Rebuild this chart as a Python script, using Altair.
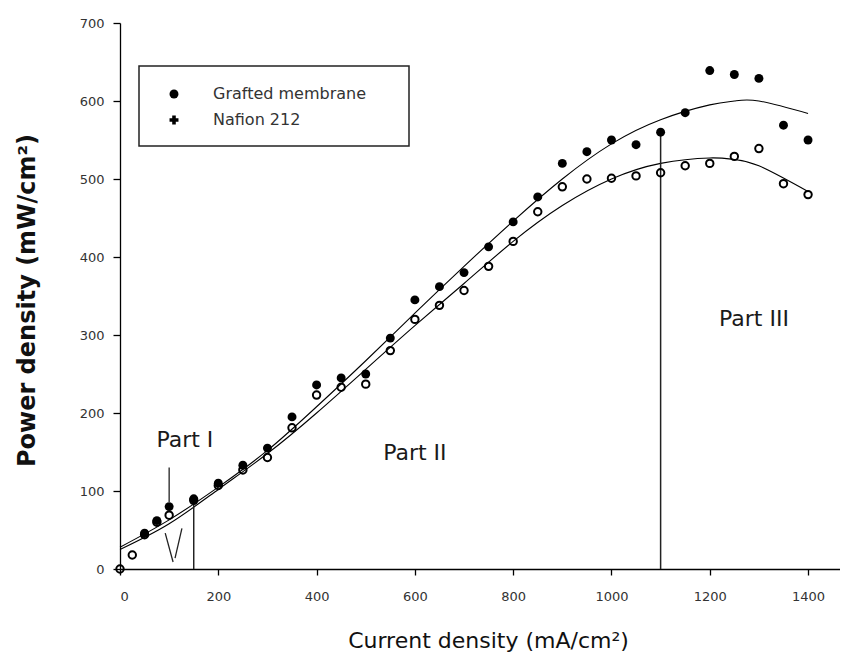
import altair as alt
import pandas as pd

# ---- data ----
grafted_x = [50, 75, 100, 150, 200, 250, 300, 350, 400, 450, 500, 550, 600, 650, 700,
             750, 800, 850, 900, 950, 1000, 1050, 1100, 1150, 1200, 1250, 1300, 1350, 1400]
grafted_y = [46, 62, 80, 90, 110, 133, 155, 195, 236, 245, 250, 296, 345, 362, 380,
             413, 445, 477, 520, 535, 550, 544, 560, 585, 639, 634, 629, 569, 550]

nafion_x = [0, 25, 50, 75, 100, 150, 200, 250, 300, 350, 400, 450, 500, 550, 600, 650, 700,
            750, 800, 850, 900, 950, 1000, 1050, 1100, 1150, 1200, 1250, 1300, 1350, 1400]
nafion_y = [0, 18, 44, 60, 69, 88, 107, 127, 143, 181, 223, 233, 237, 280, 320, 338, 357,
            388, 420, 458, 490, 500, 501, 504, 508, 517, 520, 529, 539, 494, 480]

# fitted trend curves
fit_x = [0, 100, 200, 300, 400, 500, 600, 700, 800, 900, 1000, 1100, 1200, 1250, 1300, 1400]
fit_upper = [28, 63, 105, 152, 208, 267, 328, 388, 446, 500, 545, 576, 595, 600, 600, 584]
fit_lower = [25, 58, 102, 148, 200, 256, 312, 366, 420, 466, 500, 520, 527, 525, 517, 484]

# drop lines separating the parts
drop_x = [150, 1100]
drop_top = [90, 560]

# Part I pointer segments
ptr_x = [100, 92, 126]
ptr_y = [130, 46, 52]
ptr_x2 = [100, 108, 112]
ptr_y2 = [86, 9, 14]

part_labels = ["Part I", "Part II", "Part III"]
part_x = [132, 600, 1290]
part_y = [165, 149, 320]

x_ticks = [0, 200, 400, 600, 800, 1000, 1200, 1400]
y_ticks = [0, 100, 200, 300, 400, 500, 600, 700]

legend_names = ["Grafted membrane", "Nafion 212"]

# ---- frames ----
df_g = pd.DataFrame({"x": grafted_x, "y": grafted_y})
df_n = pd.DataFrame({"x": nafion_x, "y": nafion_y})
df_fu = pd.DataFrame({"x": fit_x, "y": fit_upper})
df_fl = pd.DataFrame({"x": fit_x, "y": fit_lower})
df_drop = pd.DataFrame({"x": drop_x, "y": [0] * len(drop_x), "y2": drop_top})
df_ptr = pd.DataFrame({"x": ptr_x, "y": ptr_y, "x2": ptr_x2, "y2": ptr_y2})
df_parts = pd.DataFrame({"x": part_x, "y": part_y, "t": part_labels})
df_one = pd.DataFrame({"a": [0]})

W, H = 720, 546
xs = alt.Scale(domain=[0, 1465], nice=False, zero=False)
ys = alt.Scale(domain=[0, 700], nice=False)

x_axis = alt.Axis(values=x_ticks, format="d", grid=False, tickSize=6, labelPadding=15,
                  labelFont="DejaVu Sans", labelFontSize=13, labelColor="#333",
                  title="Current density (mA/cm²)", titleFont="DejaVu Sans",
                  titleFontSize=22, titleFontWeight="normal", titleColor="#111",
                  titleX=368, titleY=71, titleBaseline="middle", titleAlign="center")
y_axis = alt.Axis(values=y_ticks, format="d", grid=False, tickSize=7, labelPadding=9,
                  labelFont="DejaVu Sans", labelFontSize=13, labelColor="#333",
                  title="Power density (mW/cm²)", titleFont="DejaVu Sans",
                  titleFontSize=24, titleFontWeight="bold", titleColor="#111",
                  titleX=-93, titleY=277, titleAngle=270, titleAlign="center",
                  titleBaseline="middle")

X = alt.X("x:Q", scale=xs, axis=x_axis)
Y = alt.Y("y:Q", scale=ys, axis=y_axis)

curves_u = alt.Chart(df_fu).mark_line(color="black", strokeWidth=1.1, interpolate="natural").encode(x=X, y=Y)
curves_l = alt.Chart(df_fl).mark_line(color="black", strokeWidth=1.1, interpolate="natural").encode(x=X, y=Y)

drops = alt.Chart(df_drop).mark_rule(color="#222", strokeWidth=1.5).encode(x=X, y=Y, y2="y2:Q")
ptr = alt.Chart(df_ptr).mark_rule(color="#222", strokeWidth=1.3).encode(x=X, y=Y, x2="x2:Q", y2="y2:Q")

pts_n = alt.Chart(df_n).mark_point(shape="circle", filled=False, color="black",
                                   strokeWidth=2, size=55, opacity=1).encode(x=X, y=Y)
pts_g = alt.Chart(df_g).mark_point(shape="circle", filled=True, color="black",
                                   size=80, opacity=1).encode(x=X, y=Y)

parts = alt.Chart(df_parts).mark_text(font="DejaVu Sans", fontSize=22, color="#1a1a1a").encode(
    x=X, y=Y, text="t:N")

# legend box (custom, matching the reference frame)
box = alt.Chart(df_one).mark_rect(fill="white", stroke="#222", strokeWidth=1.5).encode(
    x=alt.value(19), x2=alt.value(289), y=alt.value(43), y2=alt.value(123))
leg_sym1 = alt.Chart(df_one).mark_point(shape="circle", filled=True, color="black", size=80, opacity=1).encode(
    x=alt.value(54), y=alt.value(71))
leg_sym2 = alt.Chart(df_one).mark_point(shape="cross", filled=True, color="black", size=80, opacity=1).encode(
    x=alt.value(54), y=alt.value(97))
leg_txt1 = alt.Chart(df_one).mark_text(text=legend_names[0], font="DejaVu Sans", fontSize=16,
                                       align="left", baseline="middle", color="#333").encode(
    x=alt.value(93), y=alt.value(71))
leg_txt2 = alt.Chart(df_one).mark_text(text=legend_names[1], font="DejaVu Sans", fontSize=16,
                                       align="left", baseline="middle", color="#333").encode(
    x=alt.value(93), y=alt.value(97))

chart = alt.layer(
    curves_u, curves_l, drops, ptr, pts_n, pts_g, parts,
    box, leg_sym1, leg_sym2, leg_txt1, leg_txt2
).properties(
    width=W, height=H,
    background="white",
    autosize=alt.AutoSizeParams(type="none"),
    padding={"left": 112, "top": 15, "right": 0, "bottom": 85},
).configure_view(stroke=None).configure_axis(
    domainColor="black", domainWidth=1.3, tickColor="black", tickWidth=1.3,
)

chart.save("out.html", embed_options={"renderer": "svg", "actions": False})
